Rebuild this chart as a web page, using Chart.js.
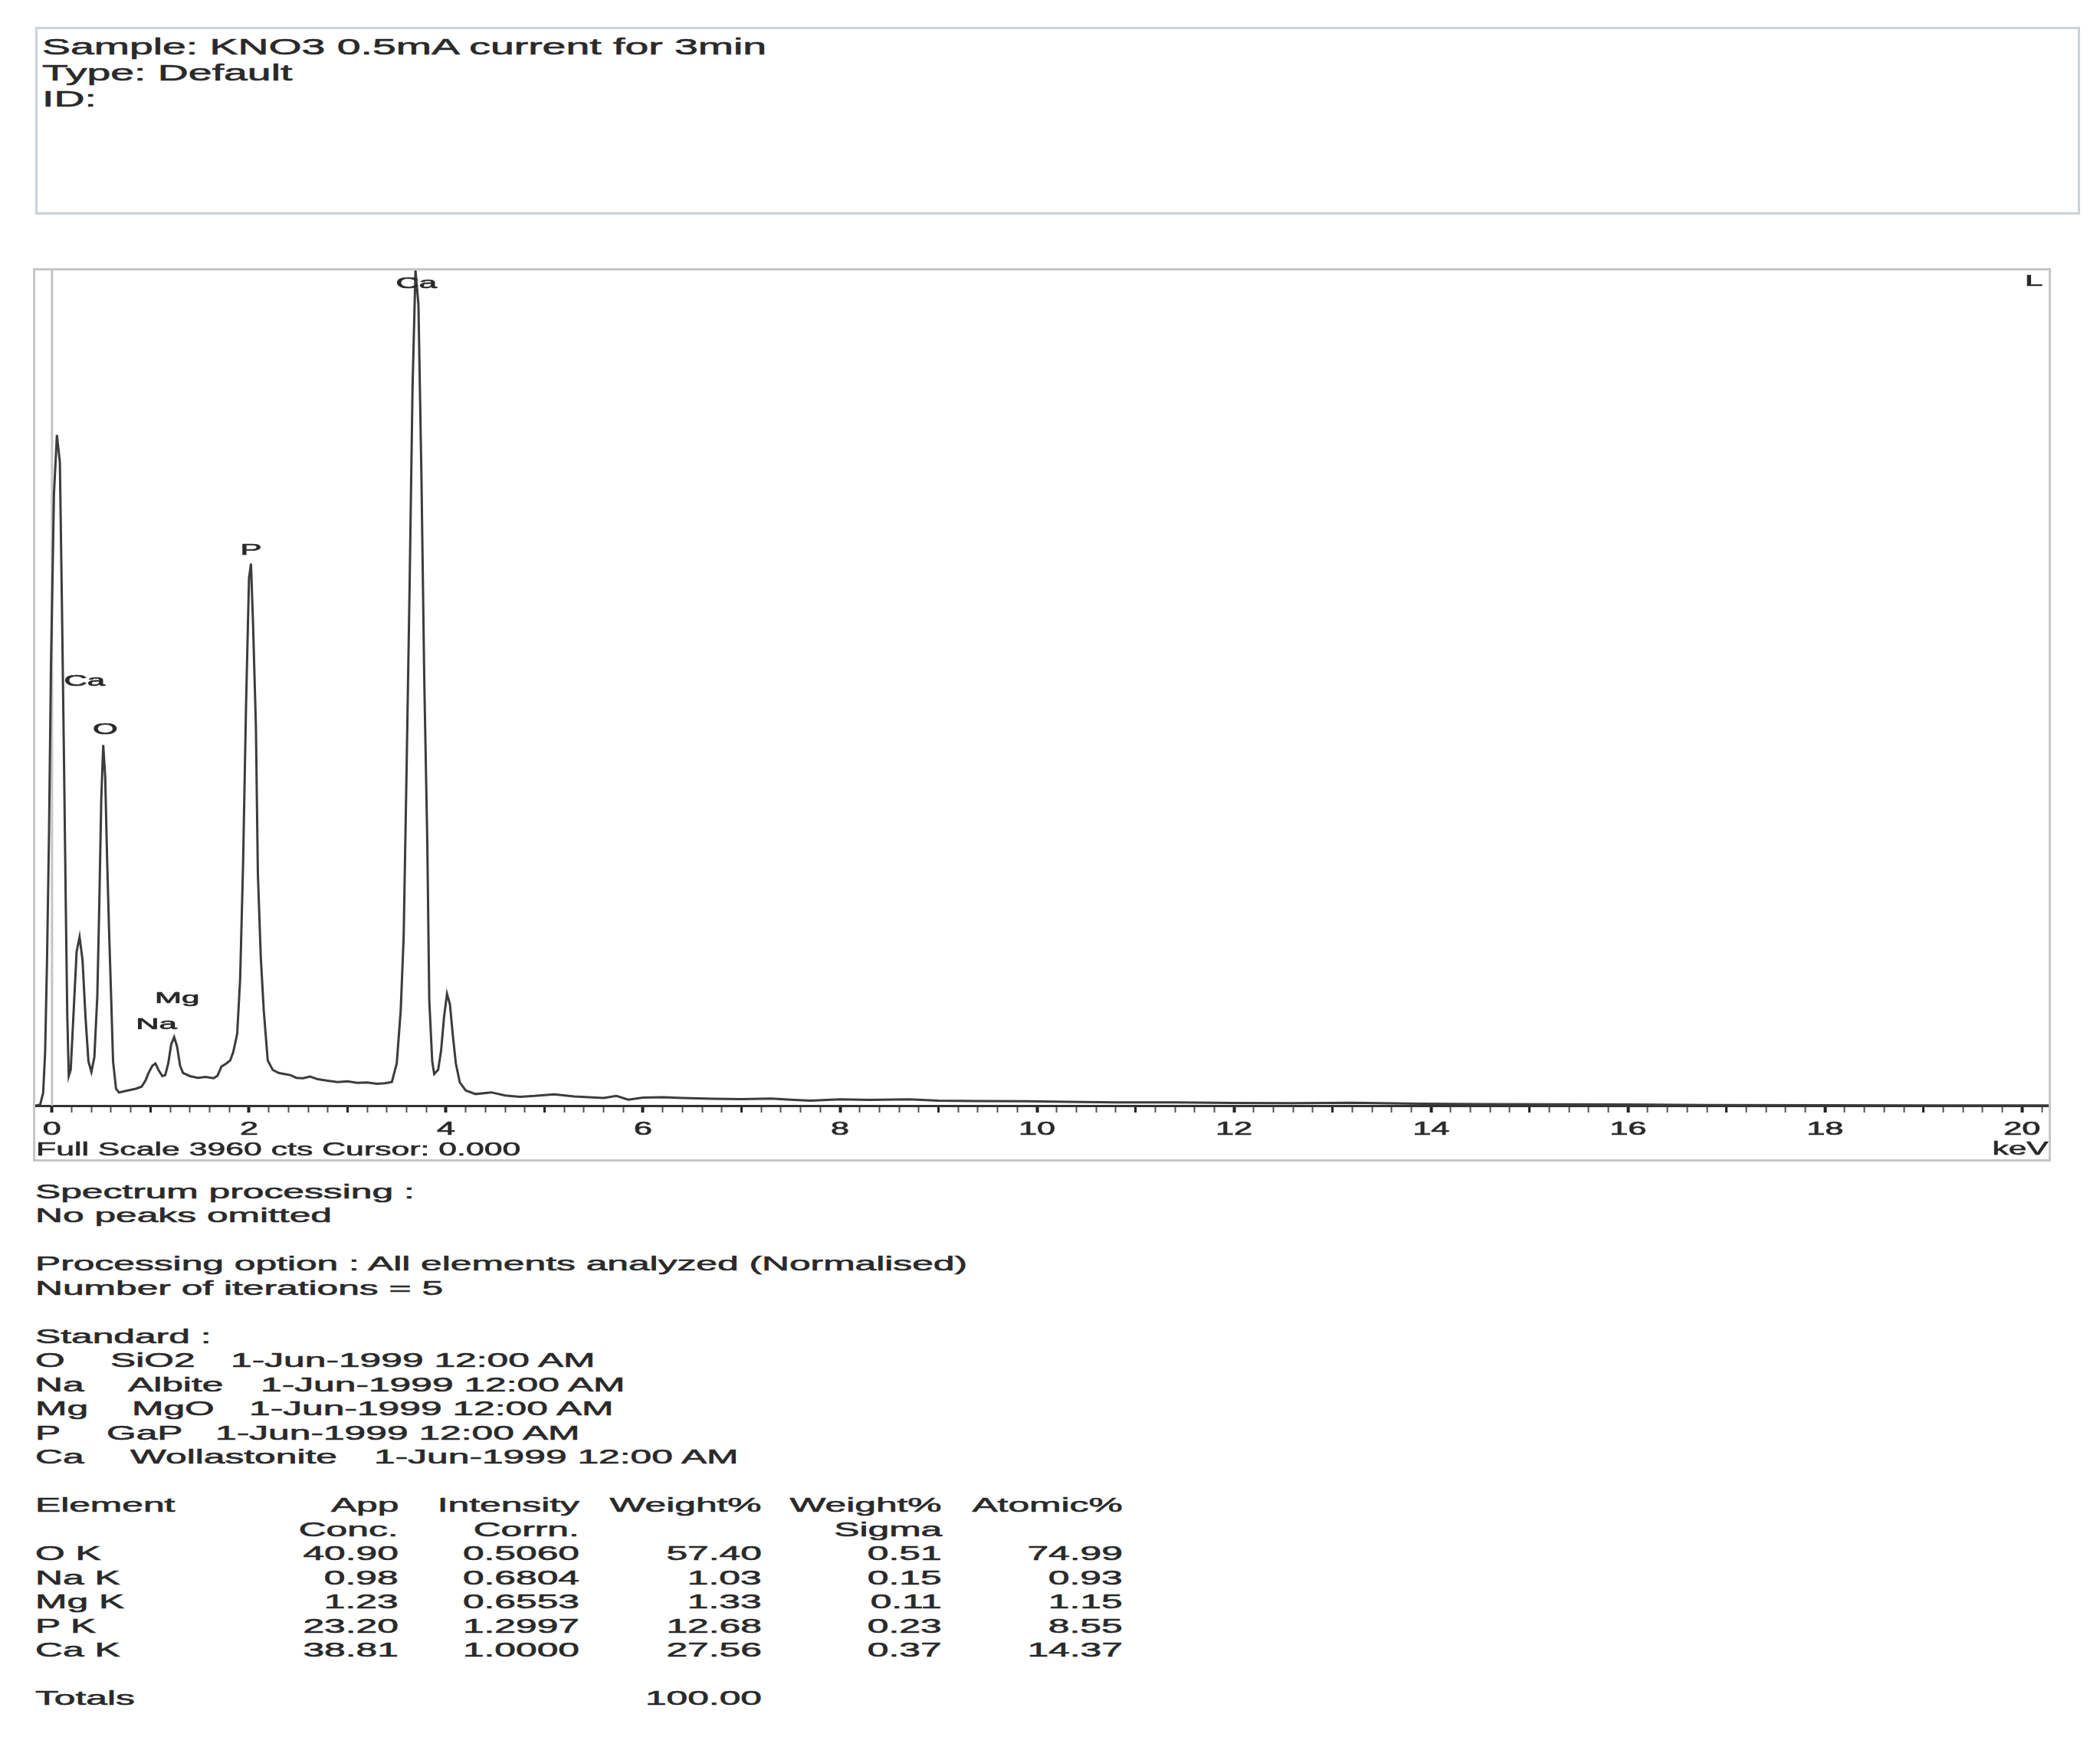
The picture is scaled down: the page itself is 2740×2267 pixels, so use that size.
<!DOCTYPE html>
<html>
<head>
<meta charset="utf-8">
<title>EDS spectrum - KNO3 0.5mA current for 3min</title>
<script src="https://cdn.jsdelivr.net/npm/chart.js@4.4.1/dist/chart.umd.min.js"></script>
<style>
  html, body { margin: 0; padding: 0; background: #fff; }
  body { position: relative; width: 2740px; height: 2267px; overflow: hidden;
         font-family: "Liberation Sans", Arial, sans-serif; color: #2a2a2a; }
  .box { position: absolute; box-sizing: border-box; }
  #infoBox { left: 46px; top: 35px; width: 2668px; height: 245px; border: 3px solid #c9d2da; }
  #specBox { left: 43px; top: 350px; width: 2633px; height: 1166px; border: 3px solid #c6c6c6; }
  #spectrum { position: absolute; left: 46px; top: 353px; }
  .txt { position: absolute; white-space: pre; -webkit-text-stroke: 0.6px #2a2a2a; }
</style>
</head>
<body>
<div id="infoBox" class="box"></div>
<div id="specBox" class="box"></div>
<canvas id="spectrum" width="2627" height="1160"></canvas>

<script>
// --- spectrum (keV vs counts) ---
const energyKeV = [
  -0.17, -0.12, -0.09, -0.07, -0.05, -0.03, -0.01, 0.02, 0.05, 0.08, 0.10, 0.12, 0.14, 0.155, 0.17,
  0.19, 0.22, 0.25, 0.28, 0.31, 0.34, 0.37, 0.40,
  0.43, 0.46, 0.48, 0.50, 0.52, 0.54, 0.56, 0.58, 0.60, 0.62, 0.65, 0.68,
  0.75, 0.85, 0.91, 0.95, 0.98, 1.02, 1.05, 1.08, 1.12, 1.15, 1.18, 1.21, 1.24, 1.27, 1.30, 1.33,
  1.40, 1.48, 1.56, 1.64, 1.68, 1.72, 1.77, 1.81,
  1.84, 1.88, 1.91, 1.94, 1.97, 2.00, 2.02, 2.04, 2.07, 2.09, 2.12, 2.15, 2.19, 2.24,
  2.30, 2.36, 2.42, 2.48, 2.55, 2.62, 2.70, 2.80, 2.90, 3.00, 3.10, 3.20, 3.30, 3.38, 3.45,
  3.50, 3.54, 3.57, 3.60, 3.63, 3.66, 3.69, 3.72, 3.75, 3.78, 3.81, 3.83, 3.86, 3.88,
  3.92, 3.95, 3.98, 4.01, 4.04, 4.07, 4.10, 4.14, 4.20,
  4.30, 4.46, 4.60, 4.75, 4.90, 5.10, 5.30, 5.45, 5.60, 5.73, 5.85, 6.00, 6.20, 6.40, 6.70,
  7.00, 7.30, 7.50, 7.70, 8.00, 8.30, 8.70, 9.00, 9.40, 9.90, 10.30, 10.80, 11.40, 12.00,
  12.60, 13.20, 13.90, 14.50, 15.20, 16.00, 16.80, 18.00, 19.00, 20.27
];
const counts = [
  0, 5, 60, 250, 700, 1300, 2100, 2900, 3180, 3050, 2400, 1700, 950, 430, 140,
  170, 450, 730, 800, 690, 420, 210, 160,
  230, 520, 950, 1450, 1710, 1560, 1160, 820, 520, 210, 80, 62,
  70, 80, 90, 120, 155, 190, 200, 170, 140, 145, 200, 290, 325, 280, 190, 155,
  140, 132, 136, 130, 142, 185, 200, 215,
  254, 340, 600, 1150, 1900, 2500, 2570, 2300, 1800, 1100, 700, 450, 215, 170,
  155, 150, 145, 132, 130, 138, 125, 118, 112, 115, 108, 110, 104, 106, 112,
  200, 450, 800, 1600, 2450, 3400, 3960, 3800, 3000, 2000, 1250, 500, 210, 150,
  170, 260, 420, 530, 480, 330, 200, 110, 72,
  55, 63, 48, 42, 46, 54, 44, 40, 36, 46, 28, 38, 40, 36, 33,
  31, 34, 28, 24, 30, 27, 30, 24, 22, 21, 18, 15, 15, 13,
  12, 14, 9, 7, 6, 5, 3, 2, 1, 1
];
const fullScaleCts = 3960;
const cursorKeV = 0.0;
const xMin = -0.17;
const xMax = 20.27;

// peak markers
const labelText = ['Ca', 'P', 'Ca', 'O', 'Mg', 'Na', 'L'];
const labelKeV  = [3.70, 2.02, 0.33, 0.54, 1.27, 1.06, 20.12];
const labelCts  = [3898, 2634, 2013, 1784, 509, 385, 3909];

// header box
const sampleLines = ['Sample: KNO3 0.5mA current for 3min', 'Type: Default', 'ID:'];

// report text below the spectrum
const processingLines = ['Spectrum processing :', 'No peaks omitted', '',
  'Processing option : All elements analyzed (Normalised)', 'Number of iterations = 5', '',
  'Standard :'];
const standardElements  = ['O', 'Na', 'Mg', 'P', 'Ca'];
const standardMaterials = ['SiO2', 'Albite', 'MgO', 'GaP', 'Wollastonite'];
const standardDates     = ['1-Jun-1999 12:00 AM', '1-Jun-1999 12:00 AM', '1-Jun-1999 12:00 AM',
                           '1-Jun-1999 12:00 AM', '1-Jun-1999 12:00 AM'];

const tableHead1 = ['Element', 'App', 'Intensity', 'Weight%', 'Weight%', 'Atomic%'];
const tableHead2 = ['', 'Conc.', 'Corrn.', '', 'Sigma', ''];
const tableElements = ['O K', 'Na K', 'Mg K', 'P K', 'Ca K'];
const appConc      = [40.90, 0.98, 1.23, 23.20, 38.81];
const intensCorrn  = [0.5060, 0.6804, 0.6553, 1.2997, 1.0000];
const weightPct    = [57.40, 1.03, 1.33, 12.68, 27.56];
const weightSigma  = [0.51, 0.15, 0.11, 0.23, 0.37];
const atomicPct    = [74.99, 0.93, 1.15, 8.55, 14.37];
const weightTotal  = 100.00;

// --- text helper: the original report is horizontally stretched ---
function putText(text, x, y, size, align, stretch) {
  const d = document.createElement('div');
  d.className = 'txt';
  d.textContent = text;
  const lh = Math.round(size * 1.2);
  d.style.fontSize = size + 'px';
  d.style.lineHeight = lh + 'px';
  d.style.top = (y - lh / 2) + 'px';
  if (align === 'right') {
    d.style.right = (2740 - x) + 'px';
    d.style.transformOrigin = '100% 50%';
  } else {
    d.style.left = x + 'px';
    d.style.transformOrigin = '0 50%';
  }
  d.style.transform = 'scaleX(' + stretch + ')';
  document.body.appendChild(d);
}

sampleLines.forEach((t, i) => putText(t, 55, 61 + i * 34, 29, 'left', 1.91));

putText('Full Scale ' + fullScaleCts + ' cts Cursor: ' + cursorKeV.toFixed(3), 47, 1500, 23.5, 'left', 1.82);
putText('keV', 2672, 1499, 23.5, 'right', 1.8);

// report block
const LINE0 = 1555, LH = 31.5, RS = 25.5, RK = 1.95;
const lineY = n => LINE0 + n * LH;
processingLines.forEach((t, i) => { if (t) putText(t, 46, lineY(i), RS, 'left', RK); });
const matX  = [144, 167, 172, 139, 170];
const dateX = [301, 340, 325, 281, 488];
standardElements.forEach((el, i) => {
  putText(el, 46, lineY(7 + i), RS, 'left', RK);
  putText(standardMaterials[i], matX[i], lineY(7 + i), RS, 'left', RK);
  putText(standardDates[i], dateX[i], lineY(7 + i), RS, 'left', RK);
});
const colRight = [0, 520, 756, 994, 1229, 1465];
tableHead1.forEach((t, c) => putText(t, c === 0 ? 46 : colRight[c], lineY(13), RS, c === 0 ? 'left' : 'right', RK));
tableHead2.forEach((t, c) => { if (t) putText(t, colRight[c], lineY(14), RS, 'right', RK); });
tableElements.forEach((el, r) => {
  const y = lineY(15 + r);
  putText(el, 46, y, RS, 'left', RK);
  putText(appConc[r].toFixed(2), colRight[1], y, RS, 'right', RK);
  putText(intensCorrn[r].toFixed(4), colRight[2], y, RS, 'right', RK);
  putText(weightPct[r].toFixed(2), colRight[3], y, RS, 'right', RK);
  putText(weightSigma[r].toFixed(2), colRight[4], y, RS, 'right', RK);
  putText(atomicPct[r].toFixed(2), colRight[5], y, RS, 'right', RK);
});
putText('Totals', 46, lineY(21), RS, 'left', RK);
putText(weightTotal.toFixed(2), colRight[3], lineY(21), RS, 'right', RK);

// --- chart ---
const isWhole = v => Math.abs(v - Math.round(v)) < 1e-6;
const isEven = v => isWhole(v) && Math.round(v) % 2 === 0;

// element markers and stretched tick labels
const spectrumText = {
  id: 'spectrumText',
  afterDraw(chart) {
    const { ctx, scales: { x, y } } = chart;
    ctx.save();
    ctx.fillStyle = '#2a2a2a';
    ctx.strokeStyle = '#2a2a2a';
    ctx.lineWidth = 0.7;
    ctx.textAlign = 'center';
    ctx.textBaseline = 'middle';
    ctx.font = '21px "Liberation Sans", Arial, sans-serif';
    labelText.forEach((t, i) => {
      ctx.save();
      ctx.translate(x.getPixelForValue(labelKeV[i]), y.getPixelForValue(labelCts[i]));
      ctx.scale(2.0, 1);
      ctx.fillText(t, 0, 0);
      ctx.strokeText(t, 0, 0);
      ctx.restore();
    });
    ctx.font = '24px "Liberation Sans", Arial, sans-serif';
    x.ticks.forEach(tk => {
      if (!isEven(tk.value)) return;
      const s = String(Math.round(tk.value));
      ctx.save();
      ctx.translate(x.getPixelForValue(tk.value), x.top + 31);
      ctx.scale(1.8, 1);
      ctx.fillText(s, 0, 0);
      ctx.strokeText(s, 0, 0);
      ctx.restore();
    });
    ctx.restore();
  }
};

new Chart(document.getElementById('spectrum').getContext('2d'), {
  type: 'line',
  data: {
    datasets: [
      {
        data: energyKeV.map((e, i) => ({ x: e, y: counts[i] })),
        borderColor: '#3c3c3c',
        borderWidth: 3,
        pointRadius: 0,
        tension: 0,
        fill: false,
        order: 1
      },
      {
        // cursor line
        data: [{ x: cursorKeV, y: 0 }, { x: cursorKeV, y: fullScaleCts }],
        borderColor: '#c4c4c4',
        borderWidth: 3,
        pointRadius: 0,
        order: 2
      }
    ]
  },
  options: {
    responsive: false,
    animation: false,
    devicePixelRatio: 1,
    layout: { padding: 0 },
    plugins: { legend: { display: false }, tooltip: { enabled: false } },
    scales: {
      x: {
        type: 'linear',
        min: xMin,
        max: xMax,
        afterFit: s => { s.height = 70; },
        border: { display: true, color: '#333', width: 3 },
        grid: {
          drawOnChartArea: false,
          drawTicks: true,
          tickLength: 9,
          tickColor: c => isWhole(c.tick.value) ? '#222' : '#555',
          tickWidth: c => isEven(c.tick.value) ? 4 : (isWhole(c.tick.value) ? 3 : 2)
        },
        ticks: { stepSize: 0.2, autoSkip: false, includeBounds: false, display: false }
      },
      y: { display: false, min: 0, max: fullScaleCts }
    }
  },
  plugins: [spectrumText]
});
</script>
</body>
</html>
